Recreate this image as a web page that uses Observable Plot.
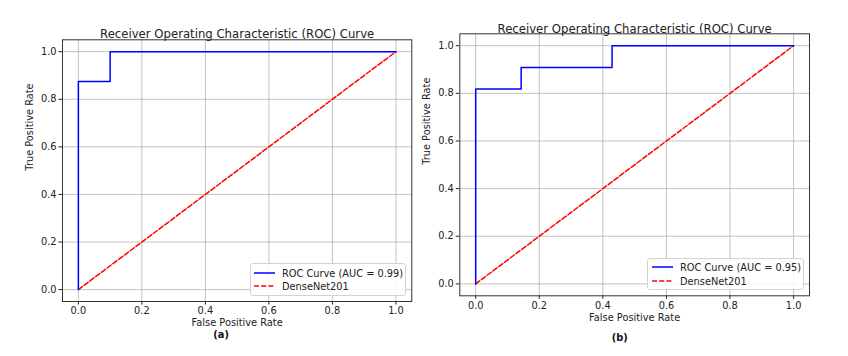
<!DOCTYPE html>
<html>
<head>
<meta charset="utf-8">
<script src="https://cdn.jsdelivr.net/npm/d3@7"></script>
<script src="https://cdn.jsdelivr.net/npm/@observablehq/plot@0.6"></script>
<style>
  html, body { margin: 0; padding: 0; background: #fff; }
  #root { position: relative; width: 848px; height: 356px; overflow: hidden; background: #fff; font-family: "DejaVu Sans", sans-serif; }
  .panel { position: absolute; top: 0; }
  .legend { position: absolute; background: rgba(255,255,255,0.85); border: 1px solid #d4d4d4; border-radius: 3px; box-sizing: border-box; }
  .legend .row { position: absolute; left: 0; right: 0; height: 12px; display: flex; align-items: center; font-size: 9.8px; color: #222; white-space: nowrap; }
  .legend svg { display: block; }
</style>
</head>
<body>
<div id="root"></div>
<script>
// ---- data ----
const tickValues = [0, 0.2, 0.4, 0.6, 0.8, 1.0];
const titleText = "Receiver Operating Characteristic (ROC) Curve";
const xLabel = "False Positive Rate";
const yLabel = "True Positive Rate";
const chanceLabel = "DenseNet201";

const fprA = [0, 0, 0.1, 0.1, 1];
const tprA = [0, 0.875, 0.875, 1, 1];
const aucA = 0.99;

const fprB = [0, 0, 0.143, 0.143, 0.429, 0.429, 1];
const tprB = [0, 0.818, 0.818, 0.909, 0.909, 1, 1];
const aucB = 0.95;

const chanceX = [0, 1];
const chanceY = [0, 1];

const panelTags = ["(a)", "(b)"];

// ---- layout ----
const panels = [
  {fpr: fprA, tpr: tprA, auc: aucA, tag: panelTags[0], left: 0,
   margin: {left: 62, right: 12.7, top: 39.3, bottom: 55},
   titleDy: -10, xLabDy: 24, tagDy: 36, tagDx: -16,
   legend: {left: 250, top: 263, width: 156, height: 33, row1: 3, row2: 16, lineX: 3, textX: 31}},
  {fpr: fprB, tpr: tprB, auc: aucB, tag: panelTags[1], left: 424,
   margin: {left: 35.3, right: 39, top: 33.3, bottom: 60.7},
   titleDy: -9.5, xLabDy: 24.7, tagDy: 44.7, tagDx: -15,
   legend: {left: 647, top: 257.5, width: 157, height: 32.5, row1: 2.5, row2: 16.5, lineX: 4, textX: 32}}
];

const root = document.getElementById("root");
const fmt = d3.format(".1f");
const dash = "5,2.2";

panels.forEach(p => {
  const roc = p.fpr.map((x, i) => ({x, y: p.tpr[i]}));
  const diag = chanceX.map((x, i) => ({x, y: chanceY[i]}));
  const chart = Plot.plot({
    width: 424,
    height: 356,
    marginLeft: p.margin.left,
    marginRight: p.margin.right,
    marginTop: p.margin.top,
    marginBottom: p.margin.bottom,
    style: {fontFamily: "DejaVu Sans, sans-serif", fontSize: "9.8px", color: "#222", background: "transparent", overflow: "visible"},
    x: {domain: [-0.05, 1.05], ticks: tickValues, tickFormat: fmt, label: null, tickSize: 3.5, tickPadding: 2.5},
    y: {domain: [-0.05, 1.05], ticks: tickValues, tickFormat: fmt, label: null, tickSize: 3.5, tickPadding: 2.5},
    marks: [
      Plot.gridX(tickValues, {stroke: "#b0b0b0", strokeOpacity: 0.85, strokeWidth: 0.9}),
      Plot.gridY(tickValues, {stroke: "#b0b0b0", strokeOpacity: 0.85, strokeWidth: 0.9}),
      Plot.line(diag, {x: "x", y: "y", stroke: "red", strokeWidth: 1.5, strokeDasharray: dash}),
      Plot.line(roc, {x: "x", y: "y", stroke: "blue", strokeWidth: 1.5}),
      Plot.frame({stroke: "#333", strokeWidth: 1}),
      Plot.text([titleText], {text: d => d, frameAnchor: "top", dy: p.titleDy, fontSize: 11.7, fill: "#222"}),
      Plot.text([xLabel], {text: d => d, frameAnchor: "bottom", dy: p.xLabDy, fill: "#222"}),
      Plot.text([yLabel], {text: d => d, frameAnchor: "left", rotate: -90, dx: -33, fill: "#222"}),
      Plot.text([p.tag], {text: d => d, frameAnchor: "bottom", dy: p.tagDy, dx: p.tagDx, fontWeight: "bold", fill: "#111"})
    ]
  });
  chart.classList.add("panel");
  chart.style.left = p.left + "px";
  root.appendChild(chart);

  // legend
  const L = p.legend;
  const box = document.createElement("div");
  box.className = "legend";
  Object.assign(box.style, {left: L.left + "px", top: L.top + "px", width: L.width + "px", height: L.height + "px"});
  const entries = [
    {label: `ROC Curve (AUC = ${p.auc.toFixed(2)})`, stroke: "blue", dash: null, top: L.row1},
    {label: chanceLabel, stroke: "red", dash: dash, top: L.row2}
  ];
  entries.forEach(e => {
    const row = document.createElement("div");
    row.className = "row";
    row.style.top = e.top + "px";
    row.style.paddingLeft = L.lineX + "px";
    const svg = d3.create("svg").attr("width", L.textX - L.lineX).attr("height", 12);
    svg.append("line").attr("x1", 0).attr("x2", 21).attr("y1", 6).attr("y2", 6)
      .attr("stroke", e.stroke).attr("stroke-width", 1.5)
      .attr("stroke-dasharray", e.dash);
    row.appendChild(svg.node());
    const span = document.createElement("span");
    span.textContent = e.label;
    row.appendChild(span);
    box.appendChild(row);
  });
  root.appendChild(box);
});
</script>
</body>
</html>
